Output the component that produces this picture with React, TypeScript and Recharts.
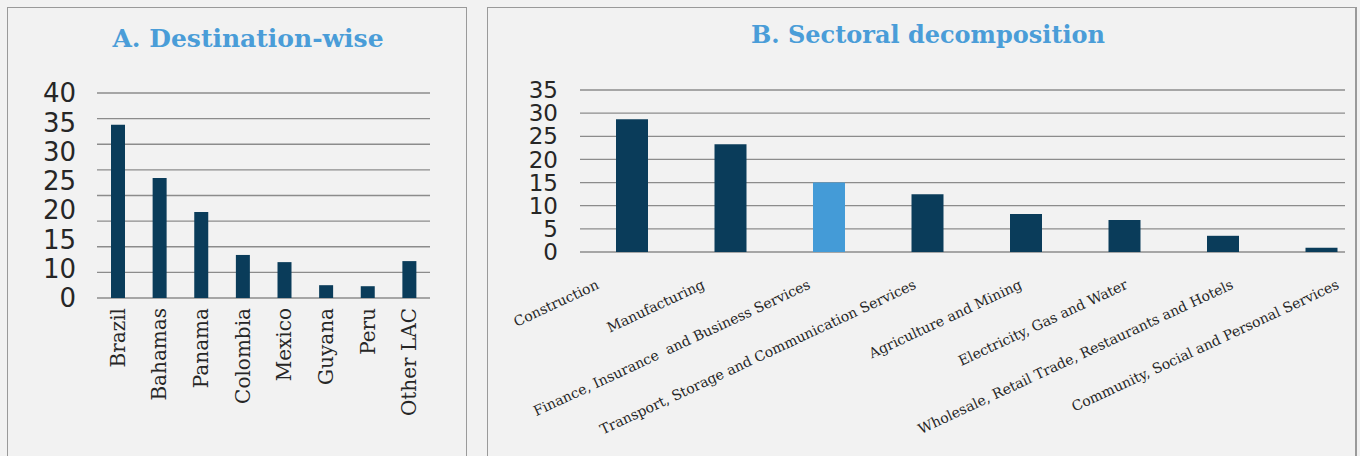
import React from "react";
import { BarChart, Bar, XAxis, YAxis, CartesianGrid, Cell } from "recharts";

// Panel A: destination-wise
const destinations = ["Brazil", "Bahamas", "Panama", "Colombia", "Mexico", "Guyana", "Peru", "Other LAC"];
const destinationValues = [33.8, 23.4, 16.8, 8.4, 7.0, 2.5, 2.3, 7.2];
const destinationTickLabels = ["0", "10", "15", "20", "25", "30", "35", "40"];
const destinationGridTicks = [0, 5, 10, 15, 20, 25, 30, 35, 40];

// Panel B: sectoral decomposition
const sectors = [
  "Construction",
  "Manufacturing",
  "Finance, Insurance  and Business Services",
  "Transport, Storage and Communication Services",
  "Agriculture and Mining",
  "Electricity, Gas and Water",
  "Wholesale, Retail Trade, Restaurants and Hotels",
  "Community, Social and Personal Services",
];
const sectorValues = [28.7, 23.3, 15.0, 12.5, 8.2, 6.9, 3.5, 0.9];
const sectorTicks = [0, 5, 10, 15, 20, 25, 30, 35];
const highlightedSector = "Finance, Insurance  and Business Services";

const titleA = "A. Destination-wise";
const titleB = "B. Sectoral decomposition";

const DARK = "#0a3c5a";
const LIGHT = "#449bd7";
const TITLE = "#4a9dd8";
const GRID = "#8c8c8c";
const TEXT = "#262626";

const dataA = destinations.map((name, i) => ({ name, value: destinationValues[i] }));
const dataB = sectors.map((name, i) => ({ name, value: sectorValues[i] }));
const labelTicks = destinationTickLabels.map((_, i) => i);

const TickA = (props: any) => {
  const { x, y, payload } = props;
  return (
    <text
      x={x}
      y={y}
      transform={`rotate(-90, ${x}, ${y})`}
      textAnchor="end"
      dominantBaseline="central"
      fontFamily="DejaVu Serif"
      fontSize={20}
      fill={TEXT}
    >
      {payload.value}
    </text>
  );
};

const TickB = (props: any) => {
  const { x, y, payload } = props;
  return (
    <text
      x={x}
      y={y}
      transform={`rotate(-25, ${x}, ${y})`}
      textAnchor="end"
      fontFamily="DejaVu Serif"
      fontSize={14}
      fill={TEXT}
      style={{ whiteSpace: "pre" }}
    >
      {payload.value}
    </text>
  );
};

export default function App() {
  return (
    <div
      style={{
        position: "absolute",
        left: 0,
        top: 0,
        width: 1360,
        height: 456,
        background: "#f2f2f2",
        overflow: "hidden",
      }}
    >
      <div
        style={{
          position: "absolute",
          left: 7,
          top: 7,
          width: 460,
          height: 470,
          border: "1px solid #9a9a9a",
          boxSizing: "border-box",
        }}
      />
      <div
        style={{
          position: "absolute",
          left: 487,
          top: 7,
          width: 870,
          height: 470,
          border: "1px solid #9a9a9a",
          borderRightWidth: 2,
          boxSizing: "border-box",
        }}
      />
      <svg style={{ position: "absolute", left: 0, top: 0 }} width={1360} height={456}>
        <text x={248} y={47} textAnchor="middle" fontFamily="DejaVu Serif" fontWeight="bold" fontSize={25} fill={TITLE}>
          {titleA}
        </text>
        <text x={928} y={43} textAnchor="middle" fontFamily="DejaVu Serif" fontWeight="bold" fontSize={24} fill={TITLE}>
          {titleB}
        </text>
      </svg>

      <div style={{ position: "absolute", left: 0, top: 0 }}>
        <BarChart width={470} height={456} data={dataA} margin={{ top: 93, right: 40, bottom: 8, left: 0 }}>
          <CartesianGrid yAxisId="grid" vertical={false} stroke={GRID} strokeWidth={1.3} />
          <XAxis
            dataKey="name"
            axisLine={false}
            tickLine={false}
            tickSize={0}
            tickMargin={10}
            interval={0}
            height={150}
            tick={<TickA />}
          />
          <YAxis yAxisId="grid" domain={[0, 40]} ticks={destinationGridTicks} width={0} hide />
          <YAxis
            yAxisId="lab"
            type="number"
            domain={[0, destinationTickLabels.length - 1]}
            allowDataOverflow
            ticks={labelTicks}
            interval={0}
            width={97}
            axisLine={false}
            tickLine={false}
            tickSize={0}
            tickMargin={21}
            tickFormatter={(v: number) => destinationTickLabels[v]}
            tick={{ fontFamily: "DejaVu Sans", fontSize: 26, fill: TEXT }}
          />
          <Bar yAxisId="grid" dataKey="value" fill={DARK} barSize={14} isAnimationActive={false} />
        </BarChart>
      </div>

      <div style={{ position: "absolute", left: 480, top: 0 }}>
        <BarChart width={880} height={456} data={dataB} margin={{ top: 90, right: 15, bottom: 14, left: 0 }}>
          <CartesianGrid vertical={false} stroke={GRID} strokeWidth={1.3} />
          <XAxis dataKey="name" hide height={0} padding={{ left: 3, right: -26 }} />
          <XAxis
            xAxisId="lab"
            dataKey="name"
            axisLine={false}
            tickLine={false}
            tickSize={0}
            tickMargin={36}
            interval={0}
            height={190}
            padding={{ left: -33, right: -48 }}
            tick={<TickB />}
          />
          <YAxis
            domain={[0, 35]}
            ticks={sectorTicks}
            interval={0}
            width={100}
            axisLine={false}
            tickLine={false}
            tickSize={0}
            tickMargin={22}
            tick={{ fontFamily: "DejaVu Sans", fontSize: 23, fill: TEXT }}
          />
          <Bar dataKey="value" barSize={32} isAnimationActive={false}>
            {dataB.map((d) => (
              <Cell key={d.name} fill={d.name === highlightedSector ? LIGHT : DARK} />
            ))}
          </Bar>
        </BarChart>
      </div>
    </div>
  );
}
